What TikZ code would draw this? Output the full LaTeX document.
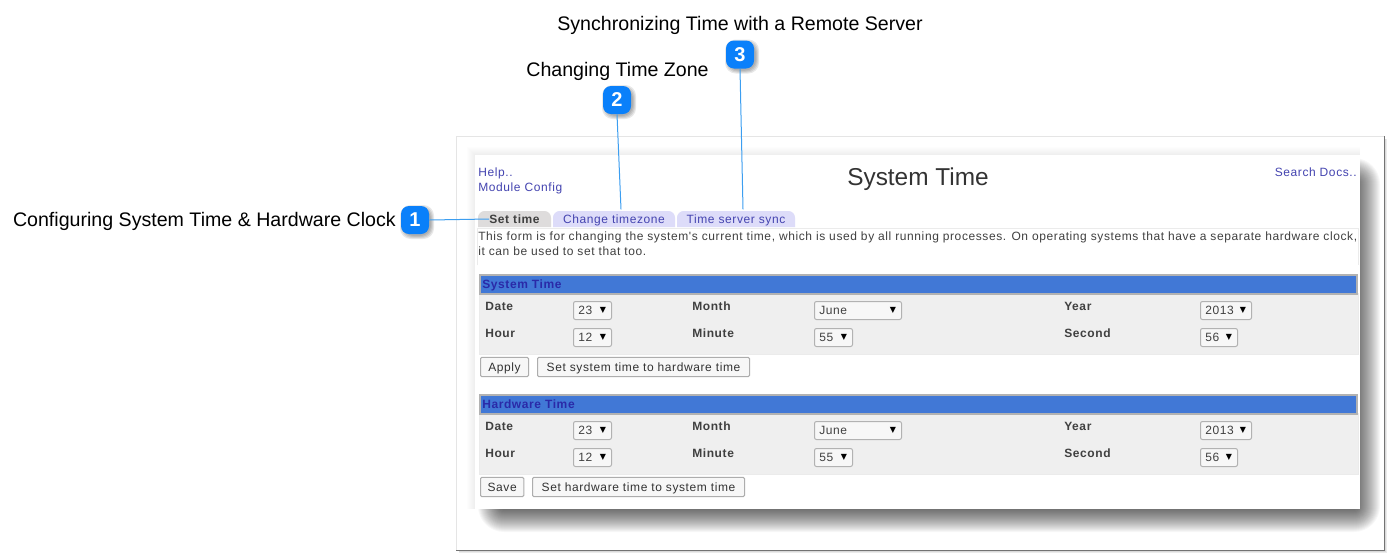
\documentclass[tikz,border=0pt]{standalone}
\usepackage{fontspec}
\setmainfont{Liberation Sans}
\newfontfamily\webfont[LetterSpace=5]{Liberation Sans}
\newfontfamily\arrowfont{DejaVu Sans}
\definecolor{badgeblue}{HTML}{0A80FA}
\definecolor{leaderblue}{HTML}{3C9EF0}
\definecolor{linkblue}{HTML}{4444B0}
\definecolor{barblue}{HTML}{4178D6}
\definecolor{bartext}{HTML}{2A2AA8}
\definecolor{tabgrey}{HTML}{DEDCDC}
\definecolor{tablilac}{HTML}{DDDCF9}
\definecolor{bodygrey}{HTML}{EFEFEF}
\tikzset{
  calloutlabel/.style={inner sep=0pt,font=\fontsize{14.7}{18}\selectfont},
  badge/.style={fill=badgeblue,rounded corners=6pt,minimum width=21pt,minimum height=21pt,inner sep=0pt,text=white,font=\fontsize{15}{18}\selectfont\bfseries},
  leader/.style={draw=leaderblue,line width=.75pt},
  webtext/.style={inner sep=0pt,text height=8pt,text depth=1.5pt,text=black!75,font=\webfont\fontsize{9}{11}\selectfont},
  weblink/.style={webtext,text=linkblue},
  fieldname/.style={webtext,font=\webfont\fontsize{9}{11}\selectfont\bfseries},
  selectbox/.style={draw=black!30,fill=black!3,line width=.75pt,rounded corners=1.5pt,anchor=west,minimum height=13.5pt,inner sep=0pt},
  selectarrow/.style={inner sep=0pt,text=black,font=\arrowfont\fontsize{6}{7}\selectfont},
  formbutton/.style={draw=black!32,fill=black!3,line width=.75pt,rounded corners=1pt,anchor=west,minimum height=14.5pt,inner xsep=0pt,inner ysep=0pt,text height=8pt,text depth=1.5pt,text=black!80,font=\webfont\fontsize{9}{11}\selectfont},
}
\begin{document}
\begin{tikzpicture}[x=.75pt,y=-.75pt]
\useasboundingbox (0,0) rectangle (1391,558);

% outer frame
\foreach \r in {0,1,2,3}
	\fill[black,opacity=.08] (459,139) rectangle (1384+\r,550+\r);
\fill[white] (456,136) rectangle (1384,550);
\draw[black!10] (456,550) -- (456,136) -- (1384,136);
\draw[black!55] (1384,136) -- (1384,550) -- (456,550);

% screenshot and its shadow
\foreach \r in {-12,-11,...,12}
	\fill[black,opacity=.033,rounded corners=(\r+14)*.75pt] (490-\r,170-\r) rectangle (1368+\r,520+\r);
\foreach \r in {1,...,8}
	\fill[black,opacity=.008] (475-\r,155-\r) rectangle (1360,509);
\fill[white] (475,155) rectangle (1360,509);

% top links and title
\node[weblink,anchor=west] (helplink) at (478,172) {Help..};
\node[weblink,anchor=west] (configlink) at (478,187) {Module Config};
\node[weblink,anchor=east] (searchlink) at (1357,172) {Search Docs..};
\node[inner sep=0pt,text=black!80,font=\fontsize{18.3}{22}\selectfont] (pagetitle) at (918,179) {System Time};

% tabs
\fill[tabgrey] (478,227) [rounded corners=5] -- (478,211) -- (551,211) [sharp corners] -- (551,227) -- cycle;
\foreach \xa/\xb in {553/675,677/795}
	\fill[tablilac] (\xa,227) [rounded corners=5] -- (\xa,211) -- (\xb,211) [sharp corners] -- (\xb,227) -- cycle;
\node[fieldname,minimum height=12pt] (tabtime) at (514.5,219) {Set time};
\node[weblink,minimum height=12pt] (tabzone) at (614,219) {Change timezone};
\node[weblink,minimum height=12pt] (tabsync) at (736,219) {Time server sync};

% description
\draw[black!8] (477,265) -- (477,228) -- (1358,228) -- (1358,265);
\node[webtext,anchor=west] (introone) at (478,236) {This form is for changing the system's current time, which is used by all running processes. On operating systems that have a separate hardware clock,};
\node[webtext,anchor=west] (introtwo) at (478,251) {it can be used to set that too.};

% the two forms
\foreach \dy/\formtitle in {0/System Time,120/Hardware Time} {
	\fill[bodygrey] (479,293+\dy) rectangle (1358,354+\dy);
	\draw[black!8] (479,293+\dy) rectangle (1358,354+\dy);
	\draw[barblue,fill=barblue] (480,275+\dy) rectangle (1356,293+\dy);
	\draw[black!30,line width=1.5pt] (479.5,274.5+\dy) rectangle (1356.5,293.5+\dy);
	\node[fieldname,text=bartext,anchor=west] at (482,284+\dy) {\formtitle};
	\foreach \x/\y/\fieldtext in {485/306/Date,485/333/Hour,692/306/Month,692/333/Minute,1064/306/Year,1064/333/Second}
		\node[fieldname,anchor=west] at (\x,\y+\dy) {\fieldtext};
	\foreach \x/\y/\w/\val in {573/310.5/39/23,573/337.5/39/12,814/310.5/88/June,814/337.5/39/55,1200/310.5/52/2013,1200/337.5/38/56} {
		\node[selectbox,minimum width=(\w-1)*.75pt] at (\x,\y+\dy) {};
		\node[webtext,anchor=west] at (\x+5,\y+\dy) {\val};
		\node[selectarrow] at (\x+\w-9,\y-.5+\dy) {▼};
	}
}

% buttons
\node[formbutton,minimum width=36pt] (applybtn) at (480,367) {Apply};
\node[formbutton,minimum width=159pt] (systembtn) at (537,367) {Set system time to hardware time};
\node[formbutton,minimum width=32.5pt] (savebtn) at (480,487) {Save};
\node[formbutton,minimum width=159pt] (hardwarebtn) at (532,487) {Set hardware time to system time};

% callouts
\foreach \x/\y in {415/220,617/100,740/54.5}
	\foreach \r in {0,1,2,3}
		\fill[black,opacity=.09,rounded corners=8] (\x-12-\r,\y-12-\r) rectangle (\x+16+\r,\y+16+\r);
\node[badge] (badgeone) at (415,220) {1};
\node[badge] (badgetwo) at (617,100) {2};
\node[badge] (badgethree) at (740,54.5) {3};
\node[calloutlabel,anchor=east] (labelone) at (396,221) {Configuring System Time \& Hardware Clock};
\node[calloutlabel] (labeltwo) at (617.5,71) {Changing Time Zone};
\node[calloutlabel] (labelthree) at (740,25) {Synchronizing Time with a Remote Server};
\draw[leader] (badgeone.east) -- (tabtime.west);
\draw[leader] (badgetwo.south) -- ([xshift=5.25pt,yshift=1pt]tabzone.north);
\draw[leader] (badgethree.south) -- ([xshift=5.25pt,yshift=1pt]tabsync.north);
\end{tikzpicture}
\end{document}
